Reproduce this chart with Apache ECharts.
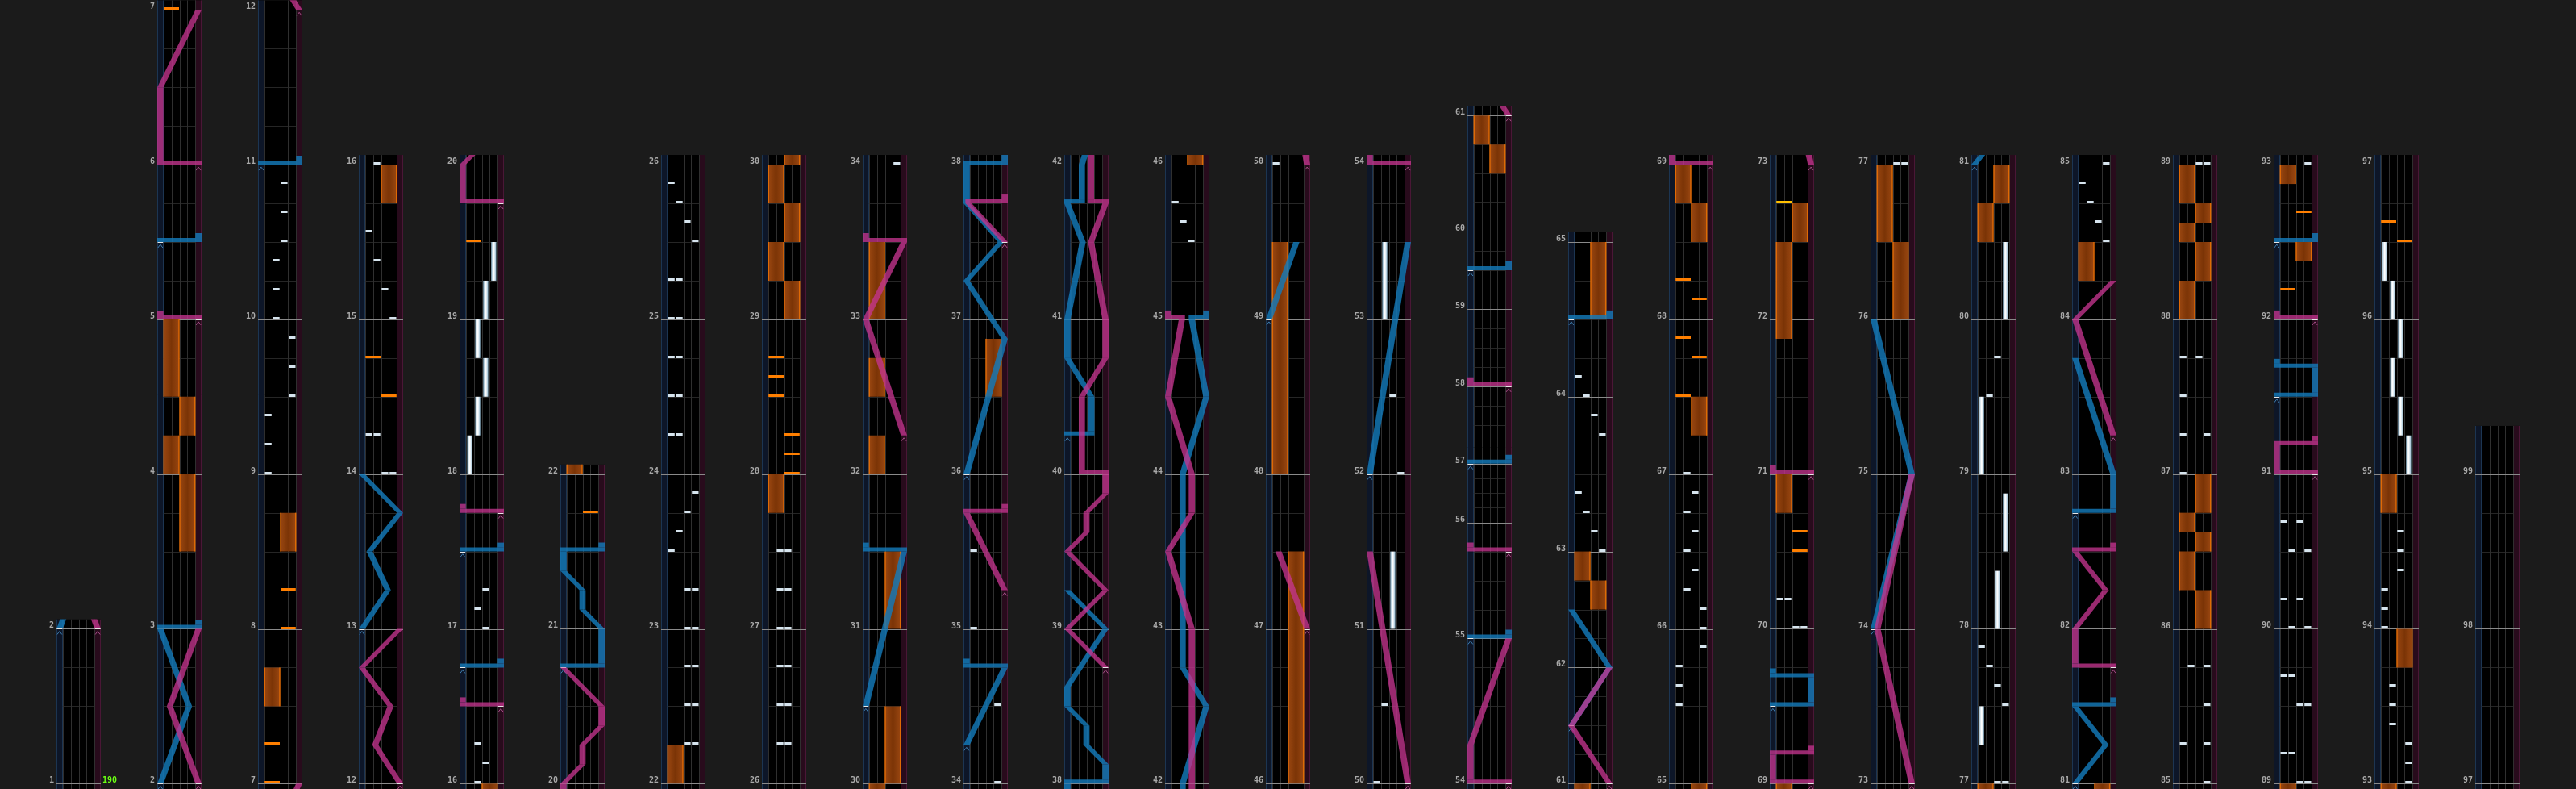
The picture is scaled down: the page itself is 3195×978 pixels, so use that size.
<!DOCTYPE html>
<html><head><meta charset="utf-8">
<script src="https://cdn.jsdelivr.net/npm/echarts/dist/echarts.min.js"></script>
<style>html,body{margin:0;padding:0;background:#1b1b1b}#c{width:3195px;height:978px}</style>
</head><body><div id="c"></div><script>
// ---- chart data ----
const columns = [[1,2],[2,7],[7,12],[12,16],[16,20],[20,22],[22,26],[26,30],[30,34],[34,38],[38,42],[42,46],[46,50],[50,54],[54,61],[61,65],[65,69],[69,73],[73,77],[77,81],[81,85],[85,89],[89,93],[93,97],[97,99]];
const songEnd = 99.25;
const scrollChanges = [[54.75,0.75],[56,0.38],[57,0.5],[60,0.75],[63,1]];
const bpmLabels = [[1,'190']];
// [measure, lane 0..3]
const btChips = [
[9,0],[9.1875,0],[9.375,0],[9.5,3],[9.6875,3],[9.875,3],
[10,1],[10.1875,1],[10.375,1],[10.5,2],[10.6875,2],[10.875,2],
[14,2],[14,3],[14.25,0],[14.25,1],
[15,3],[15.1875,2],[15.375,1],[15.5625,0],
[16,1],[16.125,2],[16.25,1],
[17,2],[17.125,1],[17.25,2],
[22.25,2],[22.25,3],[22.5,2],[22.5,3],[22.75,2],[22.75,3],[23,2],[23,3],[23.25,2],[23.25,3],
[23.5,0],[23.625,1],[23.75,2],[23.875,3],
[24.25,0],[24.25,1],[24.5,0],[24.5,1],[24.75,0],[24.75,1],[25,0],[25,1],[25.25,0],[25.25,1],
[25.5,3],[25.625,2],[25.75,1],[25.875,0],
[26.25,1],[26.25,2],[26.5,1],[26.5,2],[26.75,1],[26.75,2],[27,1],[27,2],[27.25,1],[27.25,2],[27.5,1],[27.5,2],
[34,3],[34.5,3],[35,0],[35.5,0],
[45.5,2],[45.625,1],[45.75,0],
[50,0],[50.5,1],[52,3],[52.5,2],
[63,3],[63.125,2],[63.25,1],[63.375,0],[63.75,3],[63.875,2],[64,1],[64.125,0],
[65.5,0],[65.625,0],[65.75,0],[65.875,3],[66,3],[66.125,3],
[66.25,1],[66.375,2],[66.5,1],[66.625,2],[66.75,1],[66.875,2],[67,1],
[70,2],[70,3],[70.1875,0],[70.1875,1],
[77,2],[77,3],[77.5,3],[77.625,2],[77.75,1],[77.875,0],[79.5,1],[79.75,2],
[84.5,3],[84.625,2],[84.75,1],[84.875,0],[85,3],
[85.25,0],[85.25,3],[85.5,3],[85.75,1],[85.75,3],
[87,0],[87.25,0],[87.25,3],[87.5,0],[87.75,0],[87.75,2],
[89,2],[89,3],[89.1875,0],[89.1875,1],[89.5,2],[89.5,3],[89.6875,0],[89.6875,1],
[90,1],[90,3],[90.1875,0],[90.1875,2],[90.5,1],[90.5,3],[90.6875,0],[90.6875,2],
[93,3],[93.125,3],[93.25,3],[93.375,1],[93.5,1],[93.625,1],
[94,0],[94.125,0],[94.25,0],[94.375,2],[94.5,2],[94.625,2]
];
// [start, end, lane]
const btHolds = [
[18,18.25,0],[18.25,18.5,1],[18.5,18.75,2],[18.75,19,1],[19,19.25,2],[19.25,19.5,3],
[51,51.5,2],[53,53.5,1],
[77.25,77.5,0],[78,78.375,2],[78.5,78.875,3],[79,79.5,0],[80,80.5,3],
[95,95.25,3],[95.25,95.5,2],[95.5,95.75,1],[95.75,96,2],[96,96.25,1],[96.25,96.5,0]
];
// [measure, side 0=L 1=R]
const fxChips = [[7,0],[7.25,0],[8,1],[8.25,1],[14.5,1],[14.75,0],[19.5,0],[21.75,1],[28,1],[28.125,1],[28.25,1],[28.5,0],[28.625,0],[28.75,0],[67.5,0],[67.75,1],[67.875,0],[68.125,1],[68.25,0],[70.5,1],[70.625,1],[92.1875,0],[92.6875,1],[96.5,1],[96.625,0]];
const fxChipsSE = [[72.75,0]];
// [start, end, side]
const fxHolds = [
[3.5,4,1],[4,4.25,0],[4.25,4.5,1],[4.5,5,0],[7.5,7.75,0],[8.5,8.75,1],[15.75,16,1],[22,22.25,0],
[27.75,28,0],[29,29.25,1],[29.25,29.5,0],[29.5,29.75,1],[29.75,30,0],[30,30.5,1],[31,31.5,1],
[32,32.25,0],[32.5,32.75,0],[33,33.5,0],[36.5,36.875,1],[46,47.5,1],[48,49.5,0],
[60.5,60.75,1],[60.75,61,0],[62.5,62.75,1],[62.75,63,0],[64.5,65,1],[67.25,67.5,1],[68.5,68.75,1],[68.75,69,0],
[70.75,71,0],[71.875,72.5,0],[72.5,72.75,1],[76,76.5,1],[76.5,77,0],[80.5,80.75,0],[80.75,81,1],[84.25,84.5,0],
[86,86.25,1],[86.25,86.5,0],[86.5,86.625,1],[86.625,86.75,0],[86.75,87,1],
[88,88.25,0],[88.25,88.5,1],[88.5,88.625,0],[88.625,88.75,1],[88.75,89,0],
[92.375,92.5,1],[92.875,93,0],[93.75,94,1],[94.75,95,0]
];
// laser sections: [measure, position 0..1]; equal measures = slam
const laserBlue = [
[[2,0],[2.5,0.75],[3,0],[3,1]],
[[5.5,0],[5.5,1]],
[[11,0],[11,1]],
[[13,0],[13.25,0.68],[13.5,0.2],[13.75,1],[14,0]],
[[16.75,0],[16.75,1]],
[[17.5,0],[17.5,1]],
[[20.75,0],[20.75,1],[21,1],[21.125,0.5],[21.25,0.5],[21.375,0],[21.5,0],[21.5,1]],
[[30.5,0],[31.5,1],[31.5,0]],
[[34.25,0],[34.75,1],[34.75,0]],
[[36,0],[36.875,1],[37.25,0],[37.5,0.9],[37.75,0],[38,0],[38,1],[38.125,1],[38.25,0.5],[38.375,0.5],[38.5,0],[38.625,0],[39,1],[39.25,0]],
[[40.25,0],[40.25,0.63],[40.5,0.63],[40.75,0],[41,0],[41.5,0.4],[41.75,0],[41.75,0.38],[42,0.38],[42.5,1],[42.75,0.38],[44,0.38],[44.5,1],[45,0.62],[45,1]],
[[49,0],[49.5,0.72]],
[[52,0],[53.5,1]],
[[55,0],[55,1]],
[[57,0],[57,1]],
[[59.5,0],[59.5,1]],
[[61.5,0],[62,1],[62.5,0]],
[[64.5,0],[64.5,1]],
[[69.5,0],[69.5,1],[69.6875,1],[69.6875,0]],
[[74,0],[75,1],[76,0]],
[[81,0],[81.25,0.8],[81.5,0],[81.5,1]],
[[82.75,0],[82.75,1],[83,1],[83.75,0]],
[[91.5,0],[91.5,1],[91.6875,1],[91.6875,0]],
[[92.5,0],[92.5,1]]
];
const laserPink = [
[[2,1],[2.5,0.25],[3,1]],
[[5,1],[5,0]],
[[6,1],[6,0],[6.5,0],[7,1]],
[[12,1],[12.25,0.35],[12.5,0.75],[12.75,0],[13,1]],
[[16.5,1],[16.5,0]],
[[17.75,1],[17.75,0]],
[[19.75,1],[19.75,0],[20,0],[20.125,0.5],[20.25,0.5],[20.375,1],[20.5,1],[20.75,0]],
[[32.25,1],[33,0],[33.5,1],[33.5,0]],
[[35.25,1],[35.75,0],[35.75,1]],
[[37.5,1],[37.75,0.05],[37.75,1]],
[[38.75,1],[39,0],[39.25,1],[39.5,0],[39.625,0.5],[39.75,0.5],[39.875,1],[40,1],[40,0.38],[40.5,0.38],[40.75,1],[41,1],[41.5,0.62],[41.75,1],[41.75,0.62],[42,0.62],[43,0.62],[43.5,0],[43.75,0.62],[44,0.62],[44.5,0],[45,0.36],[45,0]],
[[47,1],[47.5,0.25]],
[[50,1],[51.5,0]],
[[54,1],[54,0],[54.25,0],[55,1]],
[[55.75,1],[55.75,0]],
[[58,1],[58,0]],
[[61,1],[61.5,0],[62,1]],
[[69,1],[69,0],[69.1875,0],[69.1875,1]],
[[71,1],[71,0]],
[[73,1],[74,0.1],[75,1]],
[[81.75,1],[81.75,0],[82,0],[82.25,0.8],[82.5,0],[82.5,1]],
[[83.25,1],[84,0],[84.25,1]],
[[91,1],[91,0],[91.1875,0],[91.1875,1]],
[[92,1],[92,0]]
];

// ---- layout / style constants ----
const PX = 191.8, H = 978;
const COL_X0 = 70, COL_GAP = 125, COL_W = 55, LW = 7.7;
const BT_W = (COL_W - 2*LW) / 4;
const BOT_PAD = 6.7 / PX, TOP_PAD = 12 / PX;
const SLAM_H = 5, TAIL_H = 11, CHIP_H = 3;
const BLUE = 'rgba(20,122,185,0.82)', PINK = 'rgba(196,52,142,0.78)';

function timeOf(m){
  let t = 0, pos = 1, sp = 1;
  for (const [cm, s] of scrollChanges){
    if (m <= cm) break;
    t += (cm - pos) * sp; pos = cm; sp = s;
  }
  return t + (m - pos) * sp;
}
const laserX = p => LW/2 + p*(COL_W - LW);
const btX = l => LW + l*BT_W;
const crisp = v => Math.round(v) + 0.5;

function bgRender(ci){
  const [s, e] = columns[ci];
  return function(params, api){
    const c = (x, m) => api.coord([x, timeOf(m)]);
    const cs = params.coordSys;
    const ch = [];
    ch.push({type:'rect', shape:{x:cs.x, y:cs.y, width:cs.width, height:cs.height}, style:{fill:'#000'}});
    const bl = c(0, s), br = c(LW, s), pl = c(COL_W-LW, s), pr = c(COL_W, s);
    ch.push({type:'rect', shape:{x:bl[0], y:cs.y, width:br[0]-bl[0], height:cs.height}, style:{fill:'#0d1628'}});
    ch.push({type:'rect', shape:{x:pl[0], y:cs.y, width:pr[0]-pl[0], height:cs.height}, style:{fill:'#280b1c'}});
    const vline = (x, col) => ch.push({type:'line', shape:{x1:crisp(x), y1:cs.y, x2:crisp(x), y2:cs.y+cs.height}, style:{stroke:col, lineWidth:1}});
    vline(bl[0], '#1c3552'); vline(br[0]-1, '#1c3552');
    vline(pl[0], '#4a1736'); vline(pr[0]-1, '#4a1736');
    for (let m = s - 1; m <= e + 1; m++){
      for (let k = 1; k < 4; k++){
        const a = c(btX(0), m + k/4), b = c(btX(4), m + k/4);
        ch.push({type:'line', shape:{x1:a[0], y1:crisp(a[1]), x2:b[0], y2:crisp(a[1])}, style:{stroke:'#262626', lineWidth:1}});
      }
    }
    for (let l = 0; l <= 4; l++) vline(c(btX(l), s)[0], '#2f2f2f');
    for (let m = s - 1; m <= e + 1; m++){
      const a = c(0, m), b = c(COL_W, m);
      ch.push({type:'line', shape:{x1:a[0], y1:crisp(a[1]), x2:b[0], y2:crisp(a[1])}, style:{stroke:'#8a8a8a', lineWidth:1}});
    }
    return {type:'group', children:ch};
  };
}

function fxHoldRender(params, api){
  const s = api.value(0), e = api.value(1), side = api.value(2);
  const a = api.coord([btX(side*2), timeOf(e)]), b = api.coord([btX(side*2+2), timeOf(s)]);
  return {type:'group', children:[
    {type:'rect', shape:{x:a[0], y:a[1], width:b[0]-a[0], height:b[1]-a[1]},
     style:{fill:{type:'linear', x:0, y:0, x2:1, y2:0, colorStops:[{offset:0,color:'#9a4711'},{offset:0.5,color:'#7b3406'},{offset:1,color:'#9a4711'}]}}},
    {type:'line', shape:{x1:a[0]+0.5, y1:a[1], x2:a[0]+0.5, y2:b[1]}, style:{stroke:'#ff7a00', lineWidth:1}},
    {type:'line', shape:{x1:b[0]-0.5, y1:a[1], x2:b[0]-0.5, y2:b[1]}, style:{stroke:'#ff7a00', lineWidth:1}}
  ]};
}

function btHoldRender(params, api){
  const s = api.value(0), e = api.value(1), l = api.value(2);
  const a = api.coord([btX(l) + 1.8, timeOf(e)]), b = api.coord([btX(l) + BT_W - 1.8, timeOf(s)]);
  return {type:'rect', shape:{x:a[0], y:a[1], width:b[0]-a[0], height:b[1]-a[1]},
    style:{fill:{type:'linear', x:0, y:0, x2:1, y2:0, colorStops:[{offset:0,color:'#86aec6'},{offset:0.45,color:'#ffffff'},{offset:0.6,color:'#f2f8fc'},{offset:1,color:'#86aec6'}]}}};
}

function btChipRender(params, api){
  const m = api.value(0), l = api.value(1);
  const a = api.coord([btX(l) + 0.8, timeOf(m)]), b = api.coord([btX(l) + BT_W - 0.8, timeOf(m)]);
  return {type:'rect', shape:{x:a[0], y:Math.round(a[1]) - CHIP_H, width:b[0]-a[0], height:CHIP_H}, style:{fill:'#d6e4ee'}};
}
function fxChipRender(color){
  return function(params, api){
    const m = api.value(0), sd = api.value(1);
    const a = api.coord([btX(sd*2) + 0.5, timeOf(m)]), b = api.coord([btX(sd*2+2) - 0.5, timeOf(m)]);
    return {type:'rect', shape:{x:a[0], y:Math.round(a[1]) - CHIP_H, width:b[0]-a[0], height:CHIP_H}, style:{fill:color}};
  };
}

function laserRender(secs, color, markCol){
  return function(params, api){
    const sec = secs[api.value(0)];
    const c = (x, m) => api.coord([x, timeOf(m)]);
    const ch = [];
    for (let j = 0; j < sec.length - 1; j++){
      const [m0, p0] = sec[j], [m1, p1] = sec[j+1];
      const x0 = laserX(p0), x1 = laserX(p1);
      if (m0 === m1){
        const a = c(Math.min(x0, x1) - LW/2, m0), b = c(Math.max(x0, x1) + LW/2, m0);
        ch.push({type:'rect', shape:{x:a[0], y:a[1]-SLAM_H, width:b[0]-a[0], height:SLAM_H}, style:{fill:color}});
        if (j === sec.length - 2){
          const d = c(x1 - LW/2, m0), f = c(x1 + LW/2, m0);
          ch.push({type:'rect', shape:{x:d[0], y:d[1]-TAIL_H, width:f[0]-d[0], height:TAIL_H-SLAM_H}, style:{fill:color}});
        }
      } else {
        const off = (j > 0 && sec[j-1][0] === m0) ? SLAM_H : 0;
        const q1 = c(x0 - LW/2, m0), q2 = c(x0 + LW/2, m0), q3 = c(x1 + LW/2, m1), q4 = c(x1 - LW/2, m1);
        ch.push({type:'polygon', shape:{points:[[q1[0], q1[1]-off],[q2[0], q2[1]-off],q3,q4]}, style:{fill:color}});
      }
    }
    const [ms, ps] = sec[0];
    const p = c(laserX(ps), ms), pa = c(laserX(ps) - LW/2, ms), pb = c(laserX(ps) + LW/2, ms);
    ch.push({type:'line', shape:{x1:pa[0]+0.5, y1:crisp(p[1]), x2:pb[0]-0.5, y2:crisp(p[1])}, style:{stroke:'#e8e8e8', lineWidth:1}});
    ch.push({type:'polyline', shape:{points:[[p[0]-3, p[1]+7],[p[0], p[1]+3],[p[0]+3, p[1]+7]]}, style:{stroke:markCol, lineWidth:1, fill:null}});
    return {type:'group', children:ch};
  };
}

function labelRender(params, api){
  const m = api.value(0);
  const pt = api.coord([0, timeOf(m)]);
  return {type:'text', x: pt[0]-3, y: Math.round(pt[1])+1,
    style:{text:String(m), fill:'#a9a9a9', font:'bold 10px "DejaVu Sans Mono"', textAlign:'right', textVerticalAlign:'bottom', align:'right', verticalAlign:'bottom'}};
}
function bpmRender(params, api){
  const m = api.value(0);
  const pt = api.coord([COL_W, timeOf(m)]);
  return {type:'text', x: pt[0]+2, y: Math.round(pt[1])+1,
    style:{text:bpmLabels[params.dataIndex][1], fill:'#6cff14', font:'bold 10px "DejaVu Sans Mono"', textAlign:'left', textVerticalAlign:'bottom', align:'left', verticalAlign:'bottom'}};
}

const grids = [], xAxes = [], yAxes = [], series = [];
columns.forEach((col, i) => {
  const [s, e] = col;
  const yMin = timeOf(s) - BOT_PAD;
  const topM = (i === columns.length - 1) ? songEnd : e;
  const yMax = timeOf(topM) + TOP_PAD;
  const h = (yMax - yMin) * PX;
  grids.push({left: COL_X0 + i*COL_GAP, width: COL_W, top: H - h, height: h});
  xAxes.push({gridIndex:i, type:'value', min:0, max:COL_W, show:false});
  yAxes.push({gridIndex:i, type:'value', min:yMin, max:yMax, show:false});
  const base = {type:'custom', xAxisIndex:i, yAxisIndex:i, clip:true, silent:true};
  const inCol = (a, b) => timeOf(b) >= yMin - 0.1 && timeOf(a) <= yMax + 0.1;
  series.push(Object.assign({}, base, {z:1, data:[[0,0]], renderItem:bgRender(i)}));
  series.push(Object.assign({}, base, {z:2, data:fxHolds.filter(d=>inCol(d[0],d[1])), renderItem:fxHoldRender}));
  series.push(Object.assign({}, base, {z:3, data:btHolds.filter(d=>inCol(d[0],d[1])), renderItem:btHoldRender}));
  series.push(Object.assign({}, base, {z:4, data:btChips.filter(d=>inCol(d[0],d[0])), renderItem:btChipRender}));
  series.push(Object.assign({}, base, {z:4, data:fxChips.filter(d=>inCol(d[0],d[0])), renderItem:fxChipRender('#ff7f00')}));
  series.push(Object.assign({}, base, {z:4, data:fxChipsSE.filter(d=>inCol(d[0],d[0])), renderItem:fxChipRender('#ffc000')}));
  series.push(Object.assign({}, base, {z:5, data:laserBlue.map((sec,k)=>[k, sec[0][0], sec[sec.length-1][0]]).filter(d=>inCol(d[1],d[2])), renderItem:laserRender(laserBlue, BLUE, '#3f7fb0')}));
  series.push(Object.assign({}, base, {z:6, data:laserPink.map((sec,k)=>[k, sec[0][0], sec[sec.length-1][0]]).filter(d=>inCol(d[1],d[2])), renderItem:laserRender(laserPink, PINK, '#a8508a')}));
  const labels = [];
  for (let m = s; m <= e; m++) labels.push([m, 0]);
  series.push(Object.assign({}, base, {z:7, clip:false, data:labels, renderItem:labelRender}));
  const bpm = bpmLabels.filter(b => b[0] >= s && b[0] < e);
  if (bpm.length) series.push(Object.assign({}, base, {z:7, clip:false, data:bpm.map(b=>[b[0],0]), renderItem:bpmRender}));
});

const chart = echarts.init(document.getElementById('c'), null, {renderer:'canvas'});
chart.setOption({backgroundColor:'#1b1b1b', animation:false, grid:grids, xAxis:xAxes, yAxis:yAxes, series:series});
</script></body></html>
